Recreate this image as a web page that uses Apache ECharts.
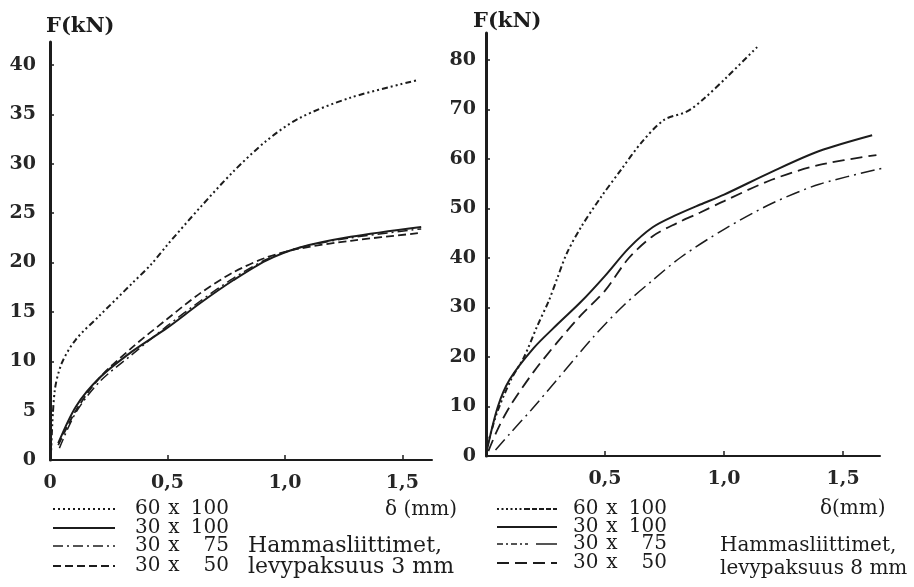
<!DOCTYPE html>
<html>
<head>
<meta charset="utf-8">
<script src="https://cdn.jsdelivr.net/npm/echarts@6/dist/echarts.min.js"></script>
<style>
  html, body { margin: 0; padding: 0; background: #fff; }
  #chart { width: 914px; height: 587px; }
</style>
</head>
<body>
<div id="chart"></div>
<script>
// Load–slip curves of toothed-plate connectors, two plate thicknesses.
const seriesNames = ['60 x 100', '30 x 100', '30 x 75', '30 x 50'];

// Plate thickness 3 mm: slip δ (mm) and force F (kN)
const t3_60x100_d = [0.005, 0.02, 0.05, 0.11, 0.21, 0.35, 0.43, 0.50, 0.64, 0.78, 0.92, 1.06, 1.28, 1.57];
const t3_60x100_F = [1.0, 7.0, 9.8, 12.2, 14.6, 17.9, 19.8, 21.8, 25.6, 29.2, 32.3, 34.6, 36.7, 38.5];
const t3_30x100_d = [0.035, 0.11, 0.21, 0.35, 0.50, 0.64, 0.78, 0.92, 1.06, 1.28, 1.58];
const t3_30x100_F = [1.7, 5.4, 8.3, 11.0, 13.4, 15.9, 18.2, 20.2, 21.5, 22.6, 23.6];
const t3_30x75_d  = [0.04, 0.11, 0.21, 0.35, 0.50, 0.64, 0.78, 0.92, 1.06, 1.28, 1.58];
const t3_30x75_F  = [1.2, 4.8, 7.9, 10.7, 13.6, 16.1, 18.4, 20.3, 21.5, 22.5, 23.4];
const t3_30x50_d  = [0.035, 0.11, 0.21, 0.35, 0.50, 0.64, 0.78, 0.92, 1.06, 1.28, 1.58];
const t3_30x50_F  = [1.5, 5.0, 8.3, 11.4, 14.3, 16.9, 19.0, 20.5, 21.4, 22.2, 23.0];

// Plate thickness 8 mm
const t8_60x100_d = [0.004, 0.046, 0.105, 0.16, 0.214, 0.265, 0.30, 0.34, 0.40, 0.483, 0.567, 0.651, 0.748, 0.845, 0.916, 1.013, 1.139];
const t8_60x100_F = [1.8, 8.7, 15.4, 20.0, 26.1, 31.5, 36.0, 41.0, 46.3, 52.3, 57.8, 63.2, 67.9, 69.6, 72.2, 76.6, 82.6];
const t8_30x100_d = [0.004, 0.05, 0.10, 0.20, 0.30, 0.40, 0.50, 0.60, 0.70, 0.80, 0.90, 1.00, 1.20, 1.40, 1.622];
const t8_30x100_F = [1.2, 10.0, 15.5, 21.8, 26.6, 31.2, 36.4, 42.0, 46.2, 48.7, 50.8, 52.8, 57.4, 61.6, 64.8];
const t8_30x75_d  = [0.04, 0.10, 0.19, 0.30, 0.45, 0.58, 0.70, 0.82, 1.00, 1.20, 1.40, 1.672];
const t8_30x75_F  = [1.2, 4.5, 9.3, 15.5, 24.0, 30.5, 35.5, 40.2, 45.8, 51.0, 54.9, 58.2];
const t8_30x50_d  = [0.01, 0.05, 0.10, 0.20, 0.30, 0.40, 0.50, 0.60, 0.70, 0.80, 0.90, 1.00, 1.20, 1.40, 1.64];
const t8_30x50_F  = [1.0, 5.5, 10.0, 17.0, 23.0, 28.5, 33.4, 40.0, 44.4, 47.0, 49.2, 51.5, 55.8, 58.8, 60.8];

const ink = '#1c1c1c';
const serif = '"DejaVu Serif", "Liberation Serif", serif';

function pairs(d, f) { return d.map((v, i) => [v, f[i]]); }

function curve(name, grid, d, f, width, dash) {
  return {
    name: name, type: 'line', xAxisIndex: grid, yAxisIndex: grid,
    data: pairs(d, f), smooth: 0.3, symbol: 'none', clip: false,
    lineStyle: { color: ink, width: width, type: dash },
    silent: true
  };
}

const commaFmt = v => (v === 0 ? '0' : v.toFixed(1).replace('.', ','));

function xAxis(grid, max, showZero) {
  return {
    type: 'value', gridIndex: grid, min: 0, max: max, interval: 0.5,
    axisLine: { lineStyle: { color: ink, width: 2 } },
    axisTick: { show: true, inside: true, length: 5, lineStyle: { color: ink, width: 1.5 } },
    splitLine: { show: false },
    axisLabel: {
      color: '#262626', fontFamily: serif, fontSize: 19, fontWeight: 'bold', margin: 14,
      formatter: v => (v === 0 && !showZero ? '' : commaFmt(v)),
      showMaxLabel: false
    }
  };
}

function yAxis(grid, max, interval, margin) {
  return {
    type: 'value', gridIndex: grid, min: 0, max: max, interval: interval,
    axisLine: { lineStyle: { color: ink, width: 3 } },
    axisTick: { show: true, inside: true, length: 4, lineStyle: { color: ink, width: 1.5 } },
    splitLine: { show: false },
    axisLabel: { color: '#262626', fontFamily: serif, fontSize: 19, fontWeight: 'bold', margin: margin, showMaxLabel: false }
  };
}

// Legend sample lines and captions
function legendBlock(x1, x2, rows, dashes, widths, numLeft, xCenter, numRight) {
  const items = [];
  const parts = [['60', '100'], ['30', '100'], ['30', '75'], ['30', '50']];
  rows.forEach((y, i) => {
    const segs = Array.isArray(dashes[i]) && Array.isArray(dashes[i][0]) ? dashes[i] : [[x1, x2, dashes[i]]];
    segs.forEach(s => items.push({
      type: 'line', shape: { x1: s[0], y1: y, x2: s[1], y2: y },
      style: { stroke: ink, lineWidth: widths[i], lineDash: s[2] }, silent: true
    }));
    const base = { font: '20px ' + serif, fill: ink, textVerticalAlign: 'middle', verticalAlign: 'middle' };
    items.push({ type: 'text', x: numLeft, y: y, style: Object.assign({ text: parts[i][0], textAlign: 'left', align: 'left' }, base), silent: true });
    items.push({ type: 'text', x: xCenter, y: y, style: Object.assign({ text: 'x', textAlign: 'center', align: 'center' }, base), silent: true });
    items.push({ type: 'text', x: numRight, y: y, style: Object.assign({ text: parts[i][1], textAlign: 'right', align: 'right' }, base), silent: true });
  });
  return items;
}

function label(text, x, y, size, weight) {
  return {
    type: 'text', x: x, y: y, silent: true,
    style: {
      text: text, font: (weight || 'normal') + ' ' + size + 'px ' + serif, fill: ink,
      textAlign: 'left', align: 'left', textVerticalAlign: 'middle', verticalAlign: 'middle'
    }
  };
}

const dash3 = { d60: [2, 3, 2, 3, 2, 3, 6, 3], d75: [10, 4, 2, 4], d50: [8, 4] };
const dash8 = { d60: [6, 3, 2, 3, 2, 3], d75: [14, 5, 2, 5], d50: [12, 6] };

const chart = echarts.init(document.getElementById('chart'), null, { renderer: 'canvas' });
chart.setOption({
  backgroundColor: '#fff',
  animation: false,
  grid: [
    { left: 50, top: 42, width: 382, height: 418 },
    { left: 486, top: 33, width: 394, height: 423 }
  ],
  xAxis: [xAxis(0, 1.626, true), xAxis(1, 1.655, false)],
  yAxis: [yAxis(0, 42.33, 5, 14), yAxis(1, 85.45, 10, 10)],
  series: [
    curve(seriesNames[0], 0, t3_60x100_d, t3_60x100_F, 2, dash3.d60),
    curve(seriesNames[1], 0, t3_30x100_d, t3_30x100_F, 2, 'solid'),
    curve(seriesNames[2], 0, t3_30x75_d, t3_30x75_F, 1.5, dash3.d75),
    curve(seriesNames[3], 0, t3_30x50_d, t3_30x50_F, 1.8, dash3.d50),
    curve(seriesNames[0], 1, t8_60x100_d, t8_60x100_F, 2, dash8.d60),
    curve(seriesNames[1], 1, t8_30x100_d, t8_30x100_F, 2, 'solid'),
    curve(seriesNames[2], 1, t8_30x75_d, t8_30x75_F, 1.5, dash8.d75),
    curve(seriesNames[3], 1, t8_30x50_d, t8_30x50_F, 1.8, dash8.d50)
  ],
  graphic: [].concat(
    [
      label('F(kN)', 46, 27, 21, 'bold'),
      label('F(kN)', 473, 22, 21, 'bold'),
      label('δ (mm)', 385, 510, 20),
      label('δ(mm)', 820, 509, 20),
      label('Hammasliittimet,', 248, 546, 22),
      label('levypaksuus 3 mm', 248, 567, 22),
      label('Hammasliittimet,', 720, 546, 20),
      label('levypaksuus 8 mm', 720, 569, 20)
    ],
    legendBlock(53, 115, [509, 528, 546, 566],
      [[2, 3], null, dash3.d75, dash3.d50], [2, 2, 1.5, 1.8], 135, 174, 229),
    legendBlock(497, 557, [509, 527, 544, 563],
      [[[497, 525, [2, 2.5]], [525, 557, [5, 2]]], null, [[497, 528, [6, 3, 2, 3]], [536, 557, null]], dash8.d50],
      [2, 2, 1.5, 1.8], 573, 612, 667)
  )
});
</script>
</body>
</html>
